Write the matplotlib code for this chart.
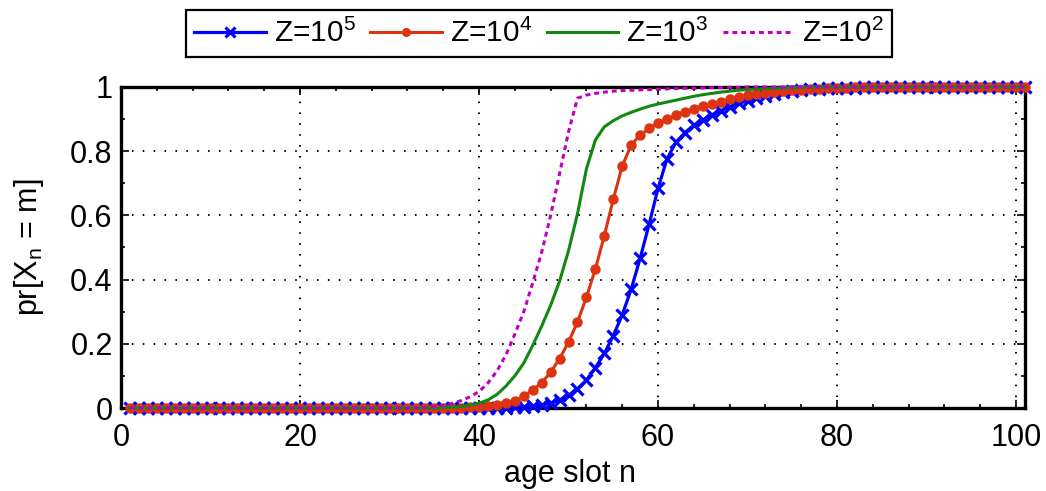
import numpy as np
import matplotlib
matplotlib.use("Agg")
import matplotlib.pyplot as plt
from matplotlib.ticker import MultipleLocator, FixedLocator, FixedFormatter

plt.rcParams['font.family'] = ['Liberation Sans', 'DejaVu Sans']
plt.rcParams['mathtext.fontset'] = 'custom'
plt.rcParams['mathtext.rm'] = 'Liberation Sans'
plt.rcParams['mathtext.it'] = 'Liberation Sans'

n = np.arange(1, 102)

z1e5 = ([0.0] * 42 +
        [0.001, 0.002, 0.003, 0.005, 0.009, 0.015, 0.025, 0.040, 0.060, 0.087,
         0.125, 0.170, 0.225, 0.290, 0.370, 0.466, 0.572, 0.684, 0.776, 0.828,
         0.858, 0.881, 0.897, 0.913, 0.926, 0.939, 0.949, 0.957, 0.966, 0.973,
         0.979, 0.984, 0.988, 0.991, 0.993, 0.995, 0.996, 0.997, 0.998, 0.998,
         0.999, 0.999] +
        [1.0] * 17)

z1e4 = ([0.0] * 38 +
        [0.002, 0.004, 0.007, 0.010, 0.015, 0.022, 0.037, 0.056, 0.079, 0.111,
         0.154, 0.205, 0.268, 0.345, 0.433, 0.537, 0.650, 0.754, 0.819, 0.850,
         0.871, 0.887, 0.900, 0.913, 0.923, 0.932, 0.940, 0.947, 0.954, 0.962,
         0.968, 0.974, 0.978, 0.982, 0.985, 0.988, 0.990, 0.992, 0.994, 0.995,
         0.996, 0.997, 0.998, 0.999, 0.999] +
        [1.0] * 18)

z1e3 = ([0.0] * 35 +
        [0.001, 0.003, 0.005, 0.009, 0.015, 0.025, 0.042, 0.068, 0.100, 0.140,
         0.195, 0.255, 0.320, 0.395, 0.490, 0.605, 0.745, 0.835, 0.876, 0.895,
         0.910, 0.921, 0.931, 0.940, 0.947, 0.953, 0.959, 0.965, 0.971, 0.976,
         0.980, 0.984, 0.987, 0.990, 0.992, 0.994, 0.995, 0.996, 0.997, 0.998,
         0.999] +
        [1.0] * 25)

z1e2 = ([0.0] * 33 +
        [0.002, 0.004, 0.008, 0.014, 0.023, 0.035, 0.051, 0.078, 0.115, 0.165,
         0.230, 0.300, 0.390, 0.485, 0.600, 0.730, 0.860, 0.965, 0.975, 0.980,
         0.984, 0.987, 0.989, 0.990, 0.991, 0.992, 0.993, 0.994, 0.995, 0.996,
         0.996, 0.997, 0.998, 0.998, 0.999, 0.999] +
        [1.0] * 32)

labels = ['Z=10$^5$', 'Z=10$^4$', 'Z=10$^3$', 'Z=10$^2$']
xticks = [0, 20, 40, 60, 80, 100]
yticks = [0, 0.2, 0.4, 0.6, 0.8, 1.0]
ytick_labels = ['0', '0.2', '0.4', '0.6', '0.8', '1']

FS = 22
fig = plt.figure(figsize=(10.46, 4.91), dpi=100)
ax = fig.add_axes([121 / 1046, 1 - 408 / 491, (1025 - 121) / 1046, (408 - 87) / 491])

l1, = ax.plot(n, z1e5, color='#0000ff', lw=2.3, marker='x', ms=9, mew=2.3,
              clip_on=False, zorder=3)
l2, = ax.plot(n, z1e4, color='#dd3311', lw=2.2, marker='o', ms=6.5,
              clip_on=False, zorder=3.1)
l3, = ax.plot(n, z1e3, color='#118811', lw=2.2, clip_on=False, zorder=3.2)
l4, = ax.plot(n, z1e2, color='#c000c0', lw=2.2, ls=(0, (1.6, 1.3)),
              clip_on=False, zorder=3.3)

ax.set_xlim(0, 101)
ax.set_ylim(0, 1)
ax.xaxis.set_major_locator(FixedLocator(xticks))
ax.yaxis.set_major_locator(FixedLocator(yticks))
ax.yaxis.set_major_formatter(FixedFormatter(ytick_labels))
ax.xaxis.set_minor_locator(MultipleLocator(4))
ax.yaxis.set_minor_locator(MultipleLocator(0.1))
ax.tick_params(which='both', direction='in', top=True, right=True, labelsize=FS, width=1.2)
ax.tick_params(which='major', length=6)
ax.tick_params(which='minor', length=3)
ax.tick_params(axis='x', which='major', pad=11)
ax.tick_params(axis='y', which='major', pad=6)
ax.grid(True, which='major', color='black', ls=(0, (0.8, 4.8)), lw=1.4)
for s in ax.spines.values():
    s.set_linewidth(2.4)

ax.set_xlabel('age slot n', fontsize=FS)
ax.set_ylabel('pr[X$_\\mathregular{n}$ = m]', fontsize=FS)
ax.xaxis.set_label_coords(0.497, -0.16)
ax.yaxis.set_label_coords(-0.083, 0.5)

leg = fig.legend([l1, l2, l3, l4], labels, loc='center', ncol=4,
                 bbox_to_anchor=(539 / 1046, 1 - 33.5 / 491), fontsize=21.5,
                 frameon=True, fancybox=False, edgecolor='black', framealpha=1,
                 handlelength=2.4, handletextpad=0.25, columnspacing=0.5,
                 numpoints=1, borderpad=0.3, borderaxespad=0, markerscale=0.85)
leg.get_frame().set_linewidth(1.6)

fig.savefig('out.png', dpi=100)
